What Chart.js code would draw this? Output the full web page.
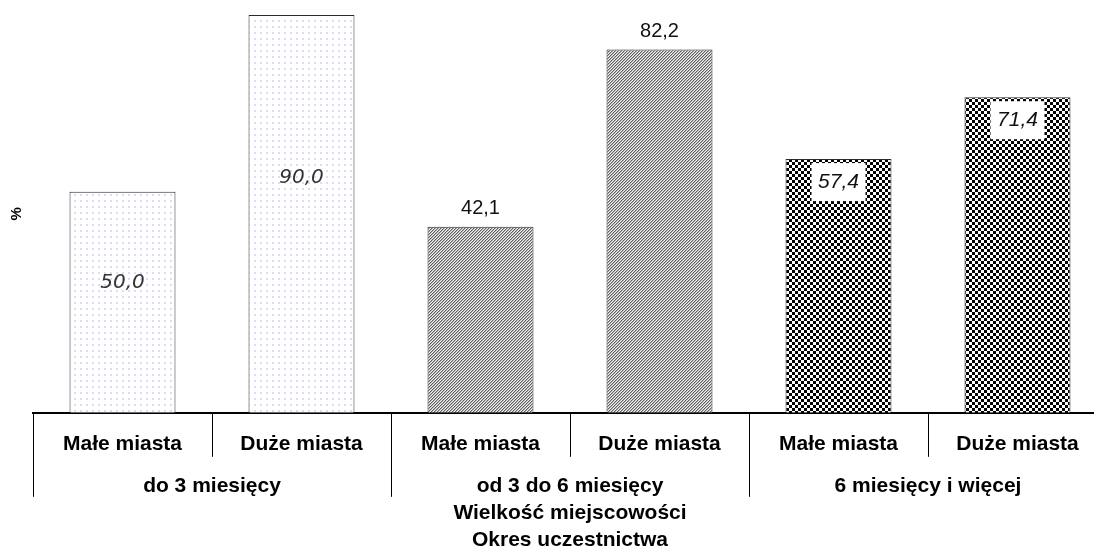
<!DOCTYPE html>
<html lang="pl">
<head>
<meta charset="utf-8">
<title>Okres uczestnictwa</title>
<script src="https://cdn.jsdelivr.net/npm/chart.js@4.4.1/dist/chart.umd.min.js"></script>
<style>
    html, body { margin: 0; padding: 0; background: #fff; overflow: hidden; }
    #wrap { position: relative; width: 1108px; height: 554px; }
</style>
</head>
<body>
<div id="wrap"><canvas id="chart"></canvas></div>
<script>
// Data
const categories = ['Małe miasta', 'Duże miasta', 'Małe miasta', 'Duże miasta', 'Małe miasta', 'Duże miasta'];
const groups = ['do 3 miesięcy', 'od 3 do 6 miesięcy', '6 miesięcy i więcej'];
const values = [50.0, 90.0, 42.1, 82.2, 57.4, 71.4];
const xTitle = ['Wielkość miejscowości', 'Okres uczestnictwa'];
const yTitle = '%';

const FONT = "'Liberation Sans', Arial, sans-serif";

// Fill patterns (one per group)
function makePattern(size, draw) {
    const c = document.createElement('canvas');
    c.width = size; c.height = size;
    const g = c.getContext('2d');
    draw(g);
    return c.getContext('2d').createPattern(c, 'repeat');
}

const dots = makePattern(6, g => {
    g.fillStyle = '#ffffff';
    g.fillRect(0, 0, 6, 6);
    g.fillStyle = '#dcdcf8';
    g.fillRect(2, 2, 2, 2);
});

const hatch = makePattern(3, g => {
    for (let x = 0; x < 3; x++) {
        for (let y = 0; y < 3; y++) {
            const d = (x + y) % 3;
            g.fillStyle = d === 2 ? '#5e5e5e' : (d === 0 ? '#b4b4b4' : '#f2f2f2');
            g.fillRect(x, y, 1, 1);
        }
    }
});

const checker = makePattern(6, g => {
    g.fillStyle = '#ffffff';
    g.fillRect(0, 0, 6, 6);
    g.fillStyle = '#000000';
    g.fillRect(0, 0, 3, 3);
    g.fillRect(3, 3, 3, 3);
});

const fills = [dots, dots, hatch, hatch, checker, checker];

function fmt(v) {
    return v.toFixed(1).replace('.', ',');
}

// Value labels, styled per group
const valueLabels = {
    id: 'valueLabels',
    afterDatasetsDraw(chart) {
        const ctx = chart.ctx;
        const meta = chart.getDatasetMeta(0);
        ctx.save();
        ctx.textAlign = 'center';
        ctx.textBaseline = 'middle';
        meta.data.forEach((bar, i) => {
            const txt = fmt(values[i]);
            const grp = Math.floor(i / 2);
            if (grp === 0) {
                ctx.font = "italic 20px 'DejaVu Sans', sans-serif";
                ctx.fillStyle = '#333';
                ctx.fillText(txt, bar.x, bar.base - (bar.base - bar.y) * 0.59);
            } else if (grp === 1) {
                ctx.font = '20px ' + FONT;
                ctx.fillStyle = '#111';
                ctx.fillText(txt, bar.x, bar.y - 18);
            } else {
                const cy = bar.y + 23;
                ctx.fillStyle = '#fff';
                ctx.fillRect(bar.x - 27, cy - 19, 54, 38);
                ctx.font = 'italic 21px ' + FONT;
                ctx.fillStyle = '#111';
                ctx.fillText(txt, bar.x, cy);
            }
        });
        ctx.restore();
    }
};

// Category dividers and group labels under the axis
const groupAxis = {
    id: 'groupAxis',
    afterDraw(chart) {
        const ctx = chart.ctx;
        const x = chart.scales.x;
        const step = x.width / categories.length;
        const base = x.top;
        ctx.save();
        ctx.strokeStyle = '#000';
        ctx.lineWidth = 1;
        for (let i = 0; i <= categories.length; i++) {
            const px = Math.round(x.left + i * step) + 0.5;
            const len = i % 2 === 0 ? 84 : 44;
            ctx.beginPath();
            ctx.moveTo(px, base);
            ctx.lineTo(px, base + len);
            ctx.stroke();
        }
        ctx.font = 'bold 21px ' + FONT;
        ctx.fillStyle = '#000';
        ctx.textAlign = 'center';
        ctx.textBaseline = 'middle';
        groups.forEach((g, i) => {
            ctx.fillText(g, x.left + (i * 2 + 1) * step, base + 73);
        });
        ctx.restore();
    }
};

new Chart(document.getElementById('chart'), {
    type: 'bar',
    data: {
        labels: categories,
        datasets: [{
            data: values,
            backgroundColor: fills,
            borderColor: '#2a2a2a',
            borderWidth: 1,
            barPercentage: 0.592,
            categoryPercentage: 1
        }]
    },
    options: {
        responsive: true,
        maintainAspectRatio: false,
        animation: false,
        layout: { padding: { left: 8, top: 15, right: 1, bottom: 0 } },
        plugins: {
            legend: { display: false },
            tooltip: { enabled: false }
        },
        scales: {
            x: {
                grid: { display: false, drawTicks: false },
                border: { display: true, color: '#000', width: 2 },
                ticks: {
                    color: '#000',
                    font: { family: FONT, size: 21, weight: 'bold' },
                    padding: 18.4,
                    maxRotation: 0,
                    autoSkip: false
                },
                title: {
                    display: true,
                    text: xTitle,
                    color: '#000',
                    font: { family: FONT, size: 21, weight: 'bold', lineHeight: 1.3 },
                    padding: { top: 24.6, bottom: 0 }
                }
            },
            y: {
                min: 0,
                max: 90,
                grid: { display: false, drawTicks: false },
                border: { display: false },
                ticks: { display: false },
                title: {
                    display: true,
                    text: yTitle,
                    color: '#000',
                    font: { family: FONT, size: 15, weight: 'bold' },
                    padding: { top: 0, bottom: 7 }
                }
            }
        }
    },
    plugins: [valueLabels, groupAxis]
});
</script>
</body>
</html>
